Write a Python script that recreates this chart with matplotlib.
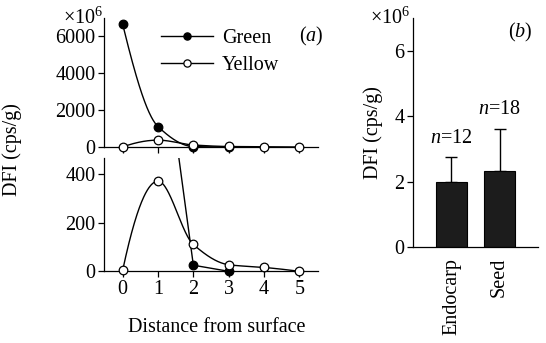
import numpy as np
import matplotlib
matplotlib.use('Agg')
import matplotlib.pyplot as plt
from matplotlib.lines import Line2D

# ---------------- data ----------------
distance = [0, 1, 2, 3, 4, 5]
green = [6600, 1100, 25, 0]
yellow = [5, 370, 110, 27, 16, 0]
top_ticks = [0, 2000, 4000, 6000]
bottom_ticks = [0, 200, 400]
tissues = ['Endocarp', 'Seed']
dfi_mean = [2.0, 2.31]
dfi_err = [0.75, 1.31]
n_counts = [12, 18]
bar_ticks = [0, 2, 4, 6]

plt.rcParams['font.family'] = ['Liberation Serif', 'DejaVu Serif']
plt.rcParams['mathtext.fontset'] = 'custom'
plt.rcParams['mathtext.rm'] = 'Liberation Serif'
plt.rcParams['mathtext.it'] = 'Liberation Serif:italic'
plt.rcParams['font.size'] = 14.5
FS = 14.5


def pchip(x, y, n=80):
    x = np.asarray(x, float)
    y = np.asarray(y, float)
    h = np.diff(x)
    d = np.diff(y) / h
    m = np.zeros_like(y)
    for k in range(1, len(x) - 1):
        if d[k - 1] * d[k] > 0:
            w1 = 2 * h[k] + h[k - 1]
            w2 = h[k] + 2 * h[k - 1]
            m[k] = (w1 + w2) / (w1 / d[k - 1] + w2 / d[k])

    def end(h0, h1, d0, d1):
        s = ((2 * h0 + h1) * d0 - h0 * d1) / (h0 + h1)
        if np.sign(s) != np.sign(d0):
            s = 0.0
        elif np.sign(d0) != np.sign(d1) and abs(s) > abs(3 * d0):
            s = 3 * d0
        return s

    m[0] = end(h[0], h[1], d[0], d[1])
    m[-1] = end(h[-1], h[-2], d[-1], d[-2])
    xs, ys = [], []
    t = np.linspace(0, 1, n)
    for k in range(len(h)):
        h00 = 2 * t**3 - 3 * t**2 + 1
        h10 = t**3 - 2 * t**2 + t
        h01 = -2 * t**3 + 3 * t**2
        h11 = t**3 - t**2
        yy = h00 * y[k] + h10 * h[k] * m[k] + h01 * y[k + 1] + h11 * h[k] * m[k + 1]
        xs.append(x[k] + t * h[k])
        ys.append(yy)
    return np.concatenate(xs), np.concatenate(ys)


W, H = 546, 343
fig = plt.figure(figsize=(W / 100, H / 100), dpi=100)


def rect(l, t, r, b):
    return [l / W, 1 - b / H, (r - l) / W, (b - t) / H]


ax_top = fig.add_axes(rect(104, 18, 318, 147))
ax_bot = fig.add_axes(rect(104, 158, 318, 271.3))
ax_bar = fig.add_axes(rect(413, 18, 538, 247))

xg = distance[:len(green)]
mk = dict(markersize=6.2, markeredgecolor='black', markeredgewidth=0.9)
lw = 1.0

# ---- top panel ----
gx, gy = pchip(xg, green)
yx, yy = pchip(distance, yellow)
ax_top.plot(gx, gy, color='black', lw=lw, clip_on=False, zorder=2)
ax_top.plot(xg, green, 'o', color='black', markerfacecolor='black', clip_on=False, zorder=3, **mk)
ax_top.plot(yx, yy, color='black', lw=lw, clip_on=False, zorder=4)
ax_top.plot(distance, yellow, 'o', color='black', markerfacecolor='white', clip_on=False, zorder=5, **mk)
ax_top.set_xlim(-0.53, 5.53)
ax_top.set_ylim(0, 6950)
ax_top.set_yticks(top_ticks)
ax_top.set_xticks(distance)
ax_top.set_xticklabels([])

# ---- bottom panel ----
ax_bot.plot(xg, green, color='black', lw=lw, zorder=2)
ylim_b = 465
gmask = [v <= ylim_b for v in green]
ax_bot.plot([x for x, k in zip(xg, gmask) if k], [v for v, k in zip(green, gmask) if k], 'o',
            color='black', markerfacecolor='black', clip_on=False, zorder=3, **mk)
ax_bot.plot(yx, yy, color='black', lw=lw, zorder=4)
ax_bot.plot(distance, yellow, 'o', color='black', markerfacecolor='white', clip_on=False, zorder=5, **mk)
ax_bot.set_xlim(-0.53, 5.53)
ax_bot.set_ylim(0, ylim_b)
ax_bot.set_yticks(bottom_ticks)
ax_bot.set_xticks(distance)
ax_bot.set_xlabel('Distance from surface', fontsize=FS)
ax_bot.xaxis.set_label_coords((217 - 104) / 214, -0.41)

for ax in (ax_top, ax_bot):
    ax.spines['top'].set_visible(False)
    ax.spines['right'].set_visible(False)
    ax.tick_params(direction='out', length=4, width=0.9, labelsize=FS, pad=2)
    ax.spines['left'].set_linewidth(0.9)
    ax.spines['bottom'].set_linewidth(0.9)

ax_top.text(-0.005, 1.0, r'$\times$10$^6$', transform=ax_top.transAxes, ha='right', va='center', fontsize=FS)
ax_top.text(0.97, 0.86, '($a$)', transform=ax_top.transAxes, ha='center', va='center', fontsize=FS)

mk_leg = dict(markersize=5.2, markeredgecolor='black', markeredgewidth=0.9)
handles = [Line2D([], [], color='black', lw=lw, marker='o', markerfacecolor='black', **mk_leg),
           Line2D([], [], color='black', lw=lw, marker='o', markerfacecolor='white', **mk_leg)]
ax_top.legend(handles, ['Green', 'Yellow'], loc='upper left', bbox_to_anchor=(0.265, 0.915),
              frameon=False, handlelength=2.6, handletextpad=0.45, labelspacing=0.4,
              fontsize=FS, borderaxespad=0, borderpad=0)

fig.text(12 / W, 1 - 150 / H, 'DFI (cps/g)', rotation=90, ha='center', va='center', fontsize=FS)

# ---- bar panel ----
pos = [1, 2]
ax_bar.bar(pos, dfi_mean, width=0.65, color='#1c1c1c', edgecolor='black', linewidth=0.8, zorder=2)
ax_bar.errorbar(pos, dfi_mean, yerr=[[0, 0], dfi_err], fmt='none', ecolor='black',
                elinewidth=1.0, capsize=4, capthick=1.0, zorder=1)
for p, m_, e, n in zip(pos, dfi_mean, dfi_err, n_counts):
    ax_bar.text(p, m_ + e + 0.28, '$n$=%d' % n, ha='center', va='bottom', fontsize=FS)
ax_bar.set_xlim(0.2, 2.8)
ax_bar.set_ylim(0, 7)
ax_bar.set_yticks(bar_ticks)
ax_bar.set_xticks(pos)
ax_bar.set_xticklabels(tissues, rotation=90, fontsize=FS)
ax_bar.tick_params(axis='x', length=0, pad=8)
ax_bar.tick_params(axis='y', direction='out', length=4, width=0.9, labelsize=FS, pad=2)
ax_bar.spines['top'].set_visible(False)
ax_bar.spines['right'].set_visible(False)
ax_bar.spines['left'].set_linewidth(0.9)
ax_bar.spines['bottom'].set_linewidth(0.9)
ax_bar.set_ylabel('DFI (cps/g)', fontsize=FS, labelpad=8)
ax_bar.text(-0.02, 1.0, r'$\times$10$^6$', transform=ax_bar.transAxes, ha='right', va='center', fontsize=FS)
ax_bar.text(0.86, 0.935, '($b$)', transform=ax_bar.transAxes, ha='center', va='center', fontsize=FS)

fig.savefig('out.png', dpi=100)
